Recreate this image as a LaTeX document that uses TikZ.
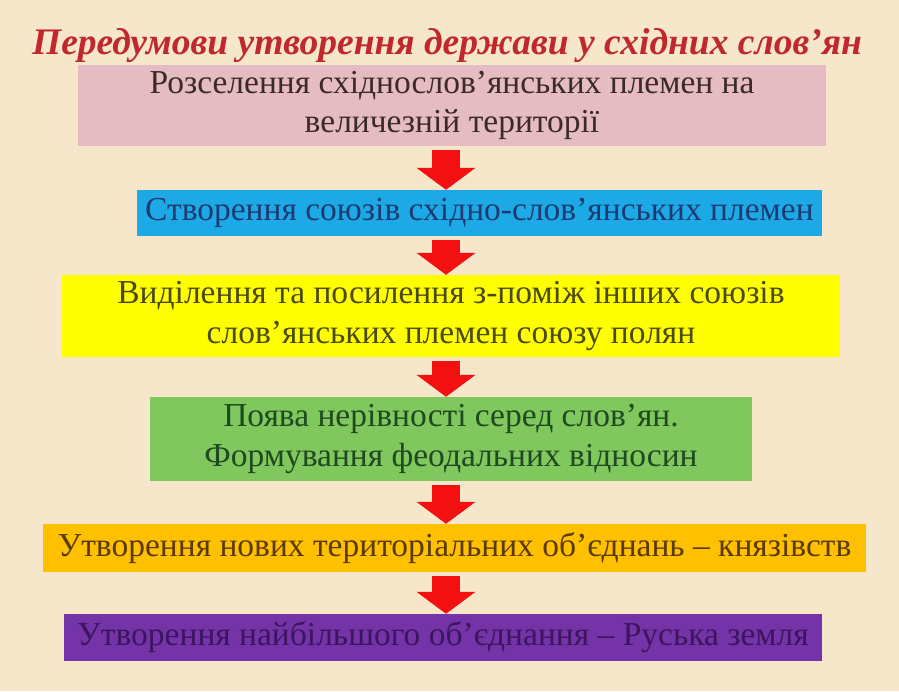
\documentclass[tikz,border=0pt]{standalone}
\usepackage{fontspec}
\setmainfont{Liberation Serif}
\usetikzlibrary{arrows.meta}
\definecolor{bg}{HTML}{F6E7CB}
\definecolor{titlered}{HTML}{C0282D}
\definecolor{pinkbox}{HTML}{E5BCC4}
\definecolor{pinktext}{HTML}{3B2A2A}
\definecolor{bluebox}{HTML}{1DA8E6}
\definecolor{bluetext}{HTML}{1D3B73}
\definecolor{yellowbox}{HTML}{FFFF00}
\definecolor{yellowtext}{HTML}{4A4A10}
\definecolor{greenbox}{HTML}{80C75E}
\definecolor{greentext}{HTML}{1F4A1F}
\definecolor{goldbox}{HTML}{FFC000}
\definecolor{goldtext}{HTML}{5A3A00}
\definecolor{purplebox}{HTML}{7434A8}
\definecolor{purpletext}{HTML}{3C1460}
\definecolor{arrowred}{HTML}{F21010}
\begin{document}
\begin{tikzpicture}[x=1pt,y=-1pt,
  box/.style={inner sep=0pt, align=center, font=\fontsize{33.5}{39.5}\selectfont},
  flowarrow/.style={draw=arrowred, line width=28pt, line cap=butt, shorten <=4pt,
    -{Triangle[width=58pt,length=22pt,fill=arrowred]}}]
\fill[bg] (0,0) rectangle (899,691);
\useasboundingbox (0,0) rectangle (899,691);
\node[font=\fontsize{37.5}{44}\selectfont\bfseries\itshape, text=titlered] (title) at (447,46) {Передумови утворення держави у східних слов’ян};
\node[box, fill=pinkbox, text=pinktext, minimum width=748pt, minimum height=81pt] (b1) at (452,105.5) {Розселення східнослов’янських племен на\\величезній території};
\node[box, fill=bluebox, text=bluetext, minimum width=685pt, minimum height=46pt] (b2) at (479.5,213) {Створення союзів східно-слов’янських племен};
\node[box, fill=yellowbox, text=yellowtext, minimum width=778pt, minimum height=82pt] (b3) at (451,316) {Виділення та посилення з-поміж інших союзів\\слов’янських племен союзу полян};
\node[box, fill=greenbox, text=greentext, minimum width=602pt, minimum height=84pt] (b4) at (451,439) {Поява нерівності серед слов’ян.\\Формування феодальних відносин};
\node[box, fill=goldbox, text=goldtext, minimum width=823pt, minimum height=48pt] (b5) at (454.5,548) {Утворення нових територіальних об’єднань – князівств};
\node[box, fill=purplebox, text=purpletext, minimum width=758pt, minimum height=47pt] (b6) at (443,637.5) {Утворення найбільшого об’єднання – Руська земля};
\coordinate (ax) at (446,0);
\draw[flowarrow] (b1.south -| ax) -- (b2.north -| ax);
\draw[flowarrow] (b2.south -| ax) -- (b3.north -| ax);
\draw[flowarrow] (b3.south -| ax) -- (b4.north -| ax);
\draw[flowarrow] (b4.south -| ax) -- (b5.north -| ax);
\draw[flowarrow] (b5.south -| ax) -- (b6.north -| ax);
\end{tikzpicture}
\end{document}
